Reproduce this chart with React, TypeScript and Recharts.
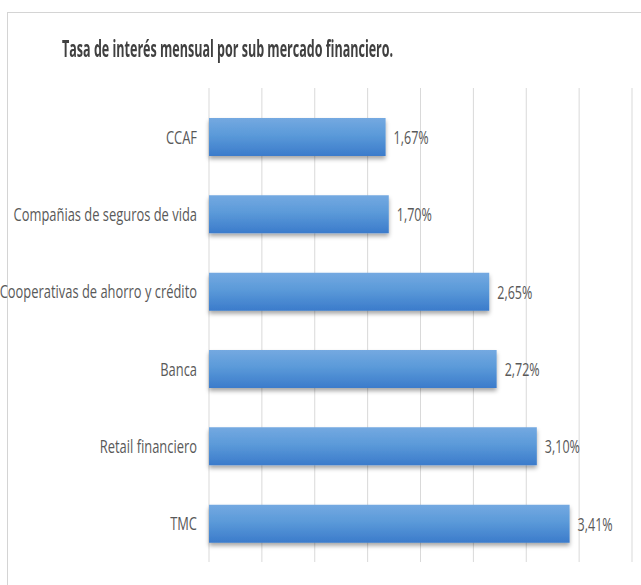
import React from "react";
import { BarChart, Bar, XAxis, YAxis, CartesianGrid, LabelList } from "recharts";

const categories = [
  "CCAF",
  "Compañias de seguros de vida",
  "Cooperativas de ahorro y crédito",
  "Banca",
  "Retail financiero",
  "TMC",
];
const rates = [1.67, 1.7, 2.65, 2.72, 3.1, 3.41];
const xTicks = [0, 0.5, 1, 1.5, 2, 2.5, 3, 3.5, 4];
const title = "Tasa de interés mensual por sub mercado financiero.";

const data = categories.map((name, i) => ({ name, value: rates[i] }));

const FONT = "'Open Sans', 'Noto Sans', sans-serif";
const SQUEEZE = 0.68;
const TITLE_SQUEEZE = 0.545;

const CategoryTick = (props: any) => {
  const { x, y, payload } = props;
  return (
    <g transform={`translate(${x},${y})`}>
      <text
        transform={`scale(${SQUEEZE},1)`}
        textAnchor="end"
        dy="0.36em"
        fill="#595959"
        fontSize={19}
        fontFamily={FONT}
      >
        {payload.value}
      </text>
    </g>
  );
};

const ValueLabel = (props: any) => {
  const { x, y, width, height, value } = props;
  const tx = Number(x) + Number(width) + 8;
  const ty = Number(y) + Number(height) / 2;
  return (
    <g transform={`translate(${tx},${ty})`}>
      <text
        transform={`scale(${SQUEEZE * 0.97},1)`}
        textAnchor="start"
        dy="0.36em"
        fill="#595959"
        fontSize={19}
        fontFamily={FONT}
      >
        {Number(value).toFixed(2).replace(".", ",") + "%"}
      </text>
    </g>
  );
};

export default function App() {
  return (
    <div
      style={{
        position: "absolute",
        left: 0,
        top: 0,
        width: 641,
        height: 585,
        overflow: "hidden",
        background: "#fff",
      }}
    >
      <div
        style={{
          position: "absolute",
          left: 7,
          top: 12,
          width: 700,
          height: 700,
          border: "1px solid #d4d4d4",
          boxSizing: "border-box",
        }}
      />
      <div
        style={{
          position: "absolute",
          left: 62,
          top: 33,
          whiteSpace: "nowrap",
          fontFamily: FONT,
          fontWeight: 700,
          fontSize: 23,
          lineHeight: "30px",
          color: "#404040",
          transform: `scale(${TITLE_SQUEEZE},1)`,
          transformOrigin: "left center",
        }}
      >
        {title}
      </div>
      <div style={{ position: "absolute", left: 0, top: 0 }}>
        <BarChart
          width={641}
          height={585}
          data={data}
          layout="vertical"
          margin={{ top: 88, right: 9, bottom: 23, left: 8 }}
          barCategoryGap="50%"
        >
          <defs>
            <linearGradient id="barGrad" x1="0" y1="0" x2="0" y2="1">
              <stop offset="0%" stopColor="#74a9e1" />
              <stop offset="45%" stopColor="#5b9ad9" />
              <stop offset="100%" stopColor="#3b7bcb" />
            </linearGradient>
            <filter id="barShadow" x="-5%" y="-20%" width="110%" height="160%">
              <feDropShadow dx="0" dy="3" stdDeviation="2" floodColor="#000" floodOpacity="0.35" />
            </filter>
          </defs>
          <CartesianGrid horizontal={false} stroke="#d9d9d9" />
          <XAxis type="number" domain={[0, 4]} ticks={xTicks} hide />
          <YAxis
            type="category"
            dataKey="name"
            width={201}
            axisLine={false}
            tickLine={false}
            tickSize={0}
            tickMargin={12}
            tick={<CategoryTick />}
            padding={{ top: 10, bottom: 0 }}
            interval={0}
          />
          <Bar
            dataKey="value"
            fill="url(#barGrad)"
            barSize={38}
            filter="url(#barShadow)"
            isAnimationActive={false}
          >
            <LabelList dataKey="value" content={<ValueLabel />} />
          </Bar>
        </BarChart>
      </div>
    </div>
  );
}
